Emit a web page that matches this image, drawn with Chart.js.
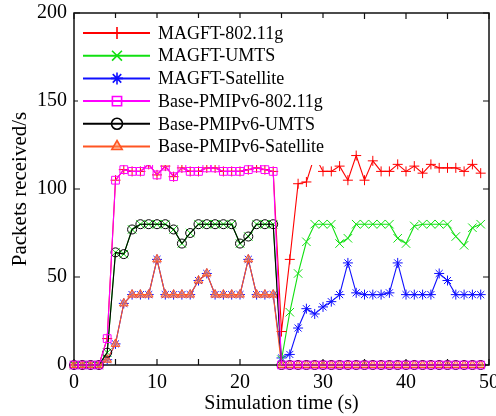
<!DOCTYPE html>
<html>
<head>
<meta charset="utf-8">
<script src="https://cdn.jsdelivr.net/npm/chart.js@4.4.1/dist/chart.umd.min.js"></script>
<style>
  html, body { margin: 0; padding: 0; background: #ffffff; }
  #wrap { width: 496px; height: 416px; }
</style>
</head>
<body>
<div id="wrap"><canvas id="c" width="496" height="416"></canvas></div>
<script>
// Simulation time (s)
const timeSec = [0,1,2,3,4,5,6,7,8,9,10,11,12,13,14,15,16,17,18,19,20,21,22,23,24,
                 25,26,27,28,29,30,31,32,33,34,35,36,37,38,39,40,41,42,43,44,45,46,47,48,49];

// Packets received per second
const magft80211g = [0,0,0,0,15,105,111,110,110,114,108,113,107,112,110,110,112,112,110,110,110,111,112,111,110,
                     19,60,103,104,119,110,110,113,105,119,105,116,110,110,114,110,113,109,114,112,112,112,110,114,109];
const magftUmts   = [0,0,0,0,7,64,63,77,80,80,80,80,77,69,75,80,80,80,80,80,69,73,80,80,80,
                     3,30,52,70,80,80,80,69,72,80,80,80,80,80,72,69,79,80,80,80,80,73,68,78,80];
const magftSat    = [0,0,0,0,3,12,35,40,40,40,60,40,40,40,40,48,52,40,40,40,40,60,40,40,40,
                     4,6,21,32,29,33,36,40,58,41,40,40,40,41,58,40,40,40,40,52,48,40,40,40,40];
const base80211g  = [0,0,0,0,15,105,111,110,110,114,108,113,107,112,110,110,112,112,110,110,110,111,112,111,110,
                     0,0,0,0,0,0,0,0,0,0,0,0,0,0,0,0,0,0,0,0,0,0,0,0,0];
const baseUmts    = [0,0,0,0,7,64,63,77,80,80,80,80,77,69,75,80,80,80,80,80,69,73,80,80,80,
                     0,0,0,0,0,0,0,0,0,0,0,0,0,0,0,0,0,0,0,0,0,0,0,0,0];
const baseSat     = [0,0,0,0,3,12,35,40,40,40,60,40,40,40,40,48,52,40,40,40,40,60,40,40,40,
                     0,0,0,0,0,0,0,0,0,0,0,0,0,0,0,0,0,0,0,0,0,0,0,0,0];

const seriesNames = ['MAGFT-802.11g','MAGFT-UMTS','MAGFT-Satellite',
                     'Base-PMIPv6-802.11g','Base-PMIPv6-UMTS','Base-PMIPv6-Satellite'];
const seriesValues = [magft80211g, magftUmts, magftSat, base80211g, baseUmts, baseSat];

const xTicks = { min: 0, max: 50, step: 5, labelEvery: 10 };
const yTicks = { min: 0, max: 200, step: 50 };

const styles = [
  { color: '#ff0000', fill: 'rgba(0,0,0,0)', point: 'cross',    radius: 5,   order: 2 },
  { color: '#11e011', fill: 'rgba(0,0,0,0)', point: 'crossRot', radius: 6,   order: 2 },
  { color: '#1010ff', fill: 'rgba(0,0,0,0)', point: 'star',     radius: 5,   order: 2 },
  { color: '#ff00ff', fill: 'rgba(0,0,0,0)', point: 'rect',     radius: 5.5, order: 1 },
  { color: '#000000', fill: 'rgba(0,0,0,0)', point: 'circle',   radius: 4.5, order: 1 },
  { color: '#ff5522', fill: 'rgba(255,140,90,0.55)', point: 'triangle', radius: 5, order: 1 }
];

const serif = "'Liberation Serif', 'Times New Roman', serif";

const datasets = seriesNames.map((name, i) => ({
  label: name,
  data: timeSec.map((t, k) => ({ x: t, y: seriesValues[i][k] })),
  borderColor: styles[i].color,
  backgroundColor: styles[i].fill,
  pointBorderColor: styles[i].color,
  pointBackgroundColor: styles[i].fill,
  pointStyle: styles[i].point,
  pointRadius: styles[i].radius,
  pointBorderWidth: 1,
  borderWidth: 1.1,
  tension: 0,
  clip: false,
  order: styles[i].order
}));

// Frame with inward tick marks on all four sides
const framePlugin = {
  id: 'frame',
  beforeDatasetsDraw(chart) {
    const { ctx, chartArea: a, scales } = chart;
    ctx.save();
    ctx.strokeStyle = '#111';
    ctx.lineWidth = 1.5;
    ctx.strokeRect(a.left, a.top, a.right - a.left, a.bottom - a.top);
    ctx.lineWidth = 1.2;
    const len = 6;
    ctx.beginPath();
    scales.x.ticks.forEach(tk => {
      const px = scales.x.getPixelForValue(tk.value);
      ctx.moveTo(px, a.bottom); ctx.lineTo(px, a.bottom - len);
      ctx.moveTo(px, a.top);    ctx.lineTo(px, a.top + len);
    });
    scales.y.ticks.forEach(tk => {
      const py = scales.y.getPixelForValue(tk.value);
      ctx.moveTo(a.left, py);  ctx.lineTo(a.left + len, py);
      ctx.moveTo(a.right, py); ctx.lineTo(a.right - len, py);
    });
    ctx.stroke();
    ctx.restore();
  }
};

// Legend box with line + marker samples, drawn over the plot
const legendPlugin = {
  id: 'lineLegend',
  afterDatasetsDraw(chart) {
    const { ctx } = chart;
    const box = { x: 78, y: 18, w: 256, h: 147 };
    const rowTop = 33, rowGap = 22.7;
    ctx.save();
    ctx.fillStyle = '#ffffff';
    ctx.fillRect(box.x, box.y, box.w, box.h);
    chart.data.datasets.forEach((ds, i) => {
      const y = rowTop + i * rowGap;
      ctx.strokeStyle = ds.borderColor;
      ctx.lineWidth = 2;
      ctx.beginPath();
      ctx.moveTo(83, y); ctx.lineTo(150, y);
      ctx.stroke();
      ctx.fillStyle = ds.pointBackgroundColor;
      ctx.lineWidth = 1.6;
      Chart.helpers.drawPoint(ctx, {
        pointStyle: ds.pointStyle, radius: ds.pointRadius + 1, borderWidth: 1.6, rotation: 0
      }, 117, y);
      ctx.fillStyle = '#000';
      ctx.font = '18px ' + serif;
      ctx.textBaseline = 'middle';
      ctx.textAlign = 'left';
      ctx.fillText(ds.label, 158, y + 1);
    });
    ctx.restore();
  }
};

new Chart(document.getElementById('c'), {
  type: 'line',
  data: { datasets },
  options: {
    responsive: false,
    animation: false,
    devicePixelRatio: 1,
    layout: { padding: { top: 13, right: 3, left: 0, bottom: 0 } },
    plugins: { legend: { display: false }, tooltip: { enabled: false } },
    scales: {
      x: {
        type: 'linear',
        min: xTicks.min, max: xTicks.max,
        afterFit(s) { s.height = 51; s.paddingLeft = 0; s.paddingRight = 0; },
        grid: { display: false, drawTicks: false },
        border: { display: false },
        ticks: {
          stepSize: xTicks.step,
          autoSkip: false,
          maxRotation: 0,
          padding: 6,
          color: '#000',
          font: { family: serif, size: 20 },
          callback: v => (v % xTicks.labelEvery === 0 ? String(v) : '')
        },
        title: {
          display: true, text: 'Simulation time (s)', color: '#000',
          font: { family: serif, size: 20 }, padding: 0
        }
      },
      y: {
        type: 'linear',
        min: yTicks.min, max: yTicks.max,
        afterFit(s) { s.width = 74; s.paddingTop = 0; s.paddingBottom = 0; },
        grid: { display: false, drawTicks: false },
        border: { display: false },
        ticks: {
          stepSize: yTicks.step,
          padding: 7,
          color: '#000',
          font: { family: serif, size: 20 }
        },
        title: {
          display: true, text: 'Packets received/s', color: '#000',
          font: { family: serif, size: 21 }, padding: { top: 8, bottom: 0 }
        }
      }
    }
  },
  plugins: [framePlugin, legendPlugin]
});
</script>
</body>
</html>
